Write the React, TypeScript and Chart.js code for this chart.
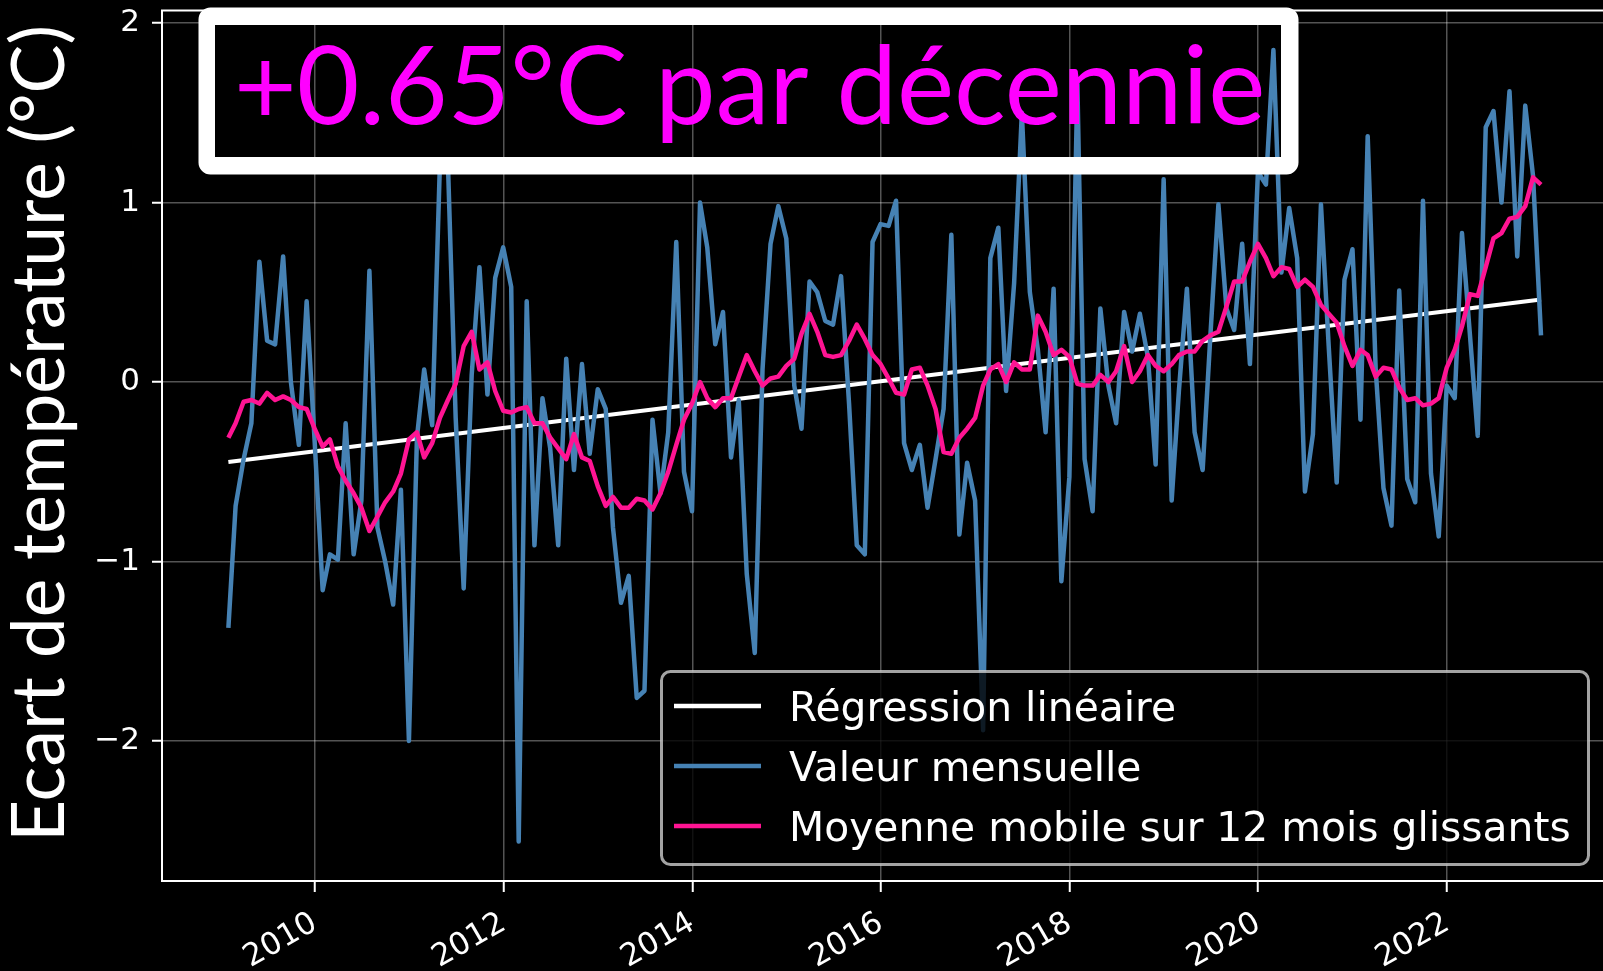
import { useEffect, useRef } from "react";
import { Chart, registerables } from "chart.js";

Chart.register(...registerables);

// ---------------- data ----------------
const START_YEAR = 2009; // first month: January 2009 (month-end dates)
const MONTH_COUNT = 168; // Jan 2009 .. Dec 2022

const MONTHLY = [
  -1.37, -0.69, -0.43, -0.23, 0.67, 0.23, 0.21, 0.7, 0.0, -0.35, 0.45, -0.33,
  -1.16, -0.96, -0.99, -0.23, -0.96, -0.66, 0.62, -0.81, -1.0, -1.24, -0.6, -2.0,
  -0.31, 0.07, -0.24, 1.22, 1.22, -0.2, -1.15, 0.04, 0.64, -0.07, 0.58, 0.75,
  0.53, -2.56, 0.45, -0.91, -0.09, -0.37, -0.91, 0.13, -0.49, 0.1, -0.4, -0.04,
  -0.15, -0.81, -1.23, -1.08, -1.76, -1.72, -0.21, -0.62, -0.28, 0.78, -0.5, -0.72,
  1.0, 0.75, 0.21, 0.39, -0.42, -0.1, -1.07, -1.51, 0.07, 0.77, 0.98, 0.8,
  -0.02, -0.26, 0.56, 0.5, 0.34, 0.32, 0.59, -0.12, -0.91, -0.96, 0.78, 0.88,
  0.87, 1.01, -0.34, -0.49, -0.35, -0.7, -0.43, -0.15, 0.82, -0.85, -0.45, -0.66,
  -1.94, 0.69, 0.86, -0.05, 0.55, 1.5, 0.5, 0.18, -0.28, 0.52, -1.11, -0.53,
  1.66, -0.43, -0.72, 0.41, -0.02, -0.23, 0.39, 0.17, 0.38, 0.14, -0.46, 1.13,
  -0.66, -0.05, 0.52, -0.28, -0.49, 0.26, 0.99, 0.41, 0.29, 0.77, 0.1, 1.17,
  1.1, 1.85, 0.61, 0.97, 0.69, -0.61, -0.29, 0.99, 0.2, -0.56, 0.57, 0.74,
  -0.21, 1.37, 0.07, -0.59, -0.8, 0.51, -0.54, -0.67, 1.01, -0.51, -0.86, -0.02,
  -0.09, 0.83, 0.26, -0.3, 1.42, 1.51, 1.0, 1.62, 0.7, 1.54, 1.15, 0.26,
];

const MOVING_AVG = [
  -0.31, -0.23, -0.11, -0.1, -0.12, -0.06, -0.1, -0.08, -0.1, -0.14, -0.15, -0.26,
  -0.36, -0.32, -0.47, -0.55, -0.62, -0.7, -0.83, -0.75, -0.67, -0.61, -0.51, -0.32,
  -0.28, -0.42, -0.34, -0.2, -0.1, -0.01, 0.2, 0.28, 0.07, 0.11, -0.05, -0.16,
  -0.17, -0.15, -0.14, -0.23, -0.23, -0.31, -0.37, -0.43, -0.29, -0.42, -0.44, -0.58,
  -0.69, -0.64, -0.7, -0.7, -0.65, -0.66, -0.71, -0.62, -0.5, -0.35, -0.21, -0.12,
  0.0, -0.09, -0.14, -0.09, -0.09, 0.03, 0.15, 0.06, -0.02, 0.02, 0.03, 0.09,
  0.13, 0.27, 0.38, 0.28, 0.15, 0.14, 0.15, 0.23, 0.32, 0.24, 0.15, 0.1,
  0.02, -0.06, -0.07, 0.07, 0.08, -0.02, -0.15, -0.39, -0.4, -0.31, -0.26, -0.2,
  -0.02, 0.07, 0.1, 0.0, 0.11, 0.07, 0.07, 0.37, 0.28, 0.15, 0.18, 0.14,
  -0.01, -0.02, -0.02, 0.04, 0.0, 0.06, 0.2, 0.0, 0.06, 0.15, 0.09, 0.06,
  0.1, 0.15, 0.17, 0.17, 0.23, 0.26, 0.28, 0.42, 0.56, 0.56, 0.67, 0.77,
  0.69, 0.59, 0.64, 0.63, 0.53, 0.57, 0.53, 0.43, 0.38, 0.33, 0.2, 0.09,
  0.18, 0.15, 0.03, 0.08, 0.07, -0.03, -0.1, -0.09, -0.13, -0.12, -0.09, 0.08,
  0.18, 0.31, 0.49, 0.48, 0.64, 0.8, 0.83, 0.91, 0.92, 0.98, 1.14, 1.1,
];

// linear regression: values at the first and last month
const REGRESSION_ENDS = [-0.445, 0.46];

const YEAR_TICKS = [2010, 2012, 2014, 2016, 2018, 2020, 2022];
const Y_TICKS = [-2, -1, 0, 1, 2];
const X_MIN_DATE = [2008, 4, 19];
const X_MAX_DATE = [2023, 7, 28];
const Y_MIN = -2.78;
const Y_MAX = 2.07;

const TITLE = "+0.65°C par décennie";
const Y_LABEL = "Ecart de température (°C)";
const LEGEND_LABELS = [
  "Régression linéaire",
  "Valeur mensuelle",
  "Moyenne mobile sur 12 mois glissants",
];

const COLOR_REG = "#ffffff";
const COLOR_MONTHLY = "#4682b4";
const COLOR_AVG = "#ff1493";
const COLOR_TITLE = "#ff00ff";
const GRID_COLOR = "rgba(255,255,255,0.33)";

// ---------------- helpers ----------------
const DAY = 86400000;
const dayNum = (y: number, m: number, d: number) => Date.UTC(y, m, d) / DAY;
const MONTH_ENDS = Array.from({ length: MONTH_COUNT }, (_, i) =>
  dayNum(START_YEAR + Math.floor(i / 12), (i % 12) + 1, 0)
);

const overlayPlugin = {
  id: "overlay",
  beforeDraw(chart: any) {
    const ctx = chart.ctx;
    ctx.save();
    ctx.fillStyle = "#000";
    ctx.fillRect(0, 0, chart.width, chart.height);
    ctx.restore();
  },
  afterDatasetsDraw(chart: any) {
    const ctx: CanvasRenderingContext2D = chart.ctx;
    const area = chart.chartArea;
    ctx.save();

    // top spine
    ctx.strokeStyle = "#fff";
    ctx.lineWidth = 2;
    ctx.beginPath();
    ctx.moveTo(area.left - 1, area.top);
    ctx.lineTo(area.right, area.top);
    ctx.stroke();

    // title box (white rounded frame, transparent inside)
    const ox = 198.5, oy = 7.5, ow = 1100, oh = 167;
    const ix = 215, iy = 25, iw = 1066, ih = 132;
    ctx.beginPath();
    (ctx as any).roundRect(ox, oy, ow, oh, 12);
    ctx.rect(ix + iw, iy, -iw, ih);
    ctx.fillStyle = "#fff";
    ctx.fill("evenodd");

    // title text
    ctx.font = "100px Lato";
    const m0 = ctx.measureText(TITLE);
    const ink0 = m0.actualBoundingBoxLeft + m0.actualBoundingBoxRight;
    const size = (100 * 1022) / ink0;
    ctx.font = `${size}px Lato`;
    const m1 = ctx.measureText(TITLE);
    ctx.fillStyle = COLOR_TITLE;
    ctx.textAlign = "left";
    ctx.textBaseline = "alphabetic";
    ctx.fillText(TITLE, 239 + m1.actualBoundingBoxLeft, 124);

    // legend
    const lx = 661.5, ly = 671.5, lw = 927, lh = 193;
    ctx.beginPath();
    (ctx as any).roundRect(lx, ly, lw, lh, 9);
    ctx.fillStyle = "rgba(0,0,0,0.8)";
    ctx.fill();
    ctx.strokeStyle = "rgba(204,204,204,0.8)";
    ctx.lineWidth = 3;
    ctx.stroke();
    const rows = [706, 766, 826];
    const cols = [COLOR_REG, COLOR_MONTHLY, COLOR_AVG];
    const fs = 40.8;
    ctx.font = `${fs}px "DejaVu Sans"`;
    rows.forEach((ry, k) => {
      ctx.strokeStyle = cols[k];
      ctx.lineWidth = 4.5;
      ctx.lineCap = "butt";
      ctx.beginPath();
      ctx.moveTo(674, ry);
      ctx.lineTo(761, ry);
      ctx.stroke();
      ctx.fillStyle = "#fff";
      ctx.fillText(LEGEND_LABELS[k], 789, ry + 0.729 * fs * 0.5);
    });
    ctx.restore();
  },
  afterDraw(chart: any) {
    const ctx: CanvasRenderingContext2D = chart.ctx;
    ctx.save();
    ctx.font = "100px Lato";
    const m0 = ctx.measureText(Y_LABEL);
    const ink0 = m0.actualBoundingBoxLeft + m0.actualBoundingBoxRight;
    const size = (100 * 808) / ink0;
    ctx.font = `${size}px Lato`;
    const m1 = ctx.measureText(Y_LABEL);
    ctx.translate(63.5, 836);
    ctx.rotate(-Math.PI / 2);
    ctx.fillStyle = "#fff";
    ctx.textAlign = "left";
    ctx.textBaseline = "alphabetic";
    ctx.fillText(Y_LABEL, m1.actualBoundingBoxLeft, 0);
    ctx.restore();
  },
};

export default function App() {
  const ref = useRef<HTMLCanvasElement | null>(null);

  useEffect(() => {
    document.body.style.margin = "0";
    document.body.style.background = "#000";
    document.body.style.overflow = "hidden";
    const canvas = ref.current;
    if (!canvas) return;

    const first = MONTH_ENDS[0];
    const last = MONTH_ENDS[MONTH_ENDS.length - 1];

    const chart = new Chart(canvas, {
      type: "line",
      data: {
        datasets: [
          {
            label: LEGEND_LABELS[0],
            data: [
              { x: first, y: REGRESSION_ENDS[0] },
              { x: last, y: REGRESSION_ENDS[1] },
            ],
            borderColor: COLOR_REG,
            borderWidth: 4,
            order: 3,
          },
          {
            label: LEGEND_LABELS[1],
            data: MONTHLY.map((v, i) => ({ x: MONTH_ENDS[i], y: v })),
            borderColor: COLOR_MONTHLY,
            borderWidth: 4.5,
            order: 2,
          },
          {
            label: LEGEND_LABELS[2],
            data: MOVING_AVG.map((v, i) => ({ x: MONTH_ENDS[i], y: v })),
            borderColor: COLOR_AVG,
            borderWidth: 4.5,
            order: 1,
          },
        ],
      },
      options: {
        animation: false,
        responsive: false,
        maintainAspectRatio: false,
        devicePixelRatio: 1,
        layout: { padding: { top: 10.5, left: 0, right: 0, bottom: 0 } },
        elements: {
          point: { radius: 0, hoverRadius: 0 },
          line: { tension: 0, borderJoinStyle: "round", fill: false },
        },
        plugins: {
          legend: { display: false },
          tooltip: { enabled: false },
          title: { display: false },
        },
        events: [],
        scales: {
          x: {
            type: "linear",
            min: dayNum(X_MIN_DATE[0], X_MIN_DATE[1], X_MIN_DATE[2]),
            max: dayNum(X_MAX_DATE[0], X_MAX_DATE[1], X_MAX_DATE[2]),
            afterFit: (s: any) => {
              s.height = 90;
              s.paddingLeft = 0;
              s.paddingRight = 0;
            },
            afterBuildTicks: (s: any) => {
              s.ticks = YEAR_TICKS.map((y) => ({ value: dayNum(y, 0, 1) }));
            },
            ticks: {
              autoSkip: false,
              minRotation: 30,
              maxRotation: 30,
              color: "#fff",
              padding: 13,
              font: { family: "DejaVu Sans", size: 31 },
              callback: (v: any) => String(new Date(Number(v) * DAY).getUTCFullYear()),
            },
            grid: {
              color: GRID_COLOR,
              lineWidth: 1.5,
              tickLength: 11,
              tickColor: "#fff",
              tickWidth: 2,
            },
            border: { display: true, color: "#fff", width: 2 },
          },
          y: {
            type: "linear",
            min: Y_MIN,
            max: Y_MAX,
            afterFit: (s: any) => {
              s.width = 162;
              s.paddingTop = 0;
              s.paddingBottom = 0;
            },
            afterBuildTicks: (s: any) => {
              s.ticks = Y_TICKS.map((v) => ({ value: v }));
            },
            ticks: {
              color: "#fff",
              padding: 12,
              font: { family: "DejaVu Sans", size: 31 },
              callback: (v: any) => {
                const n = Math.round(Number(v));
                return n < 0 ? "\u2212" + Math.abs(n) : String(n);
              },
            },
            grid: {
              color: GRID_COLOR,
              lineWidth: 1.5,
              tickLength: 10,
              tickColor: "#fff",
              tickWidth: 2,
            },
            border: { display: true, color: "#fff", width: 2 },
          },
        },
      } as any,
      plugins: [overlayPlugin],
    });

    return () => chart.destroy();
  }, []);

  return (
    <canvas
      ref={ref}
      width={1603}
      height={971}
      style={{ display: "block", width: "1603px", height: "971px" }}
    />
  );
}
